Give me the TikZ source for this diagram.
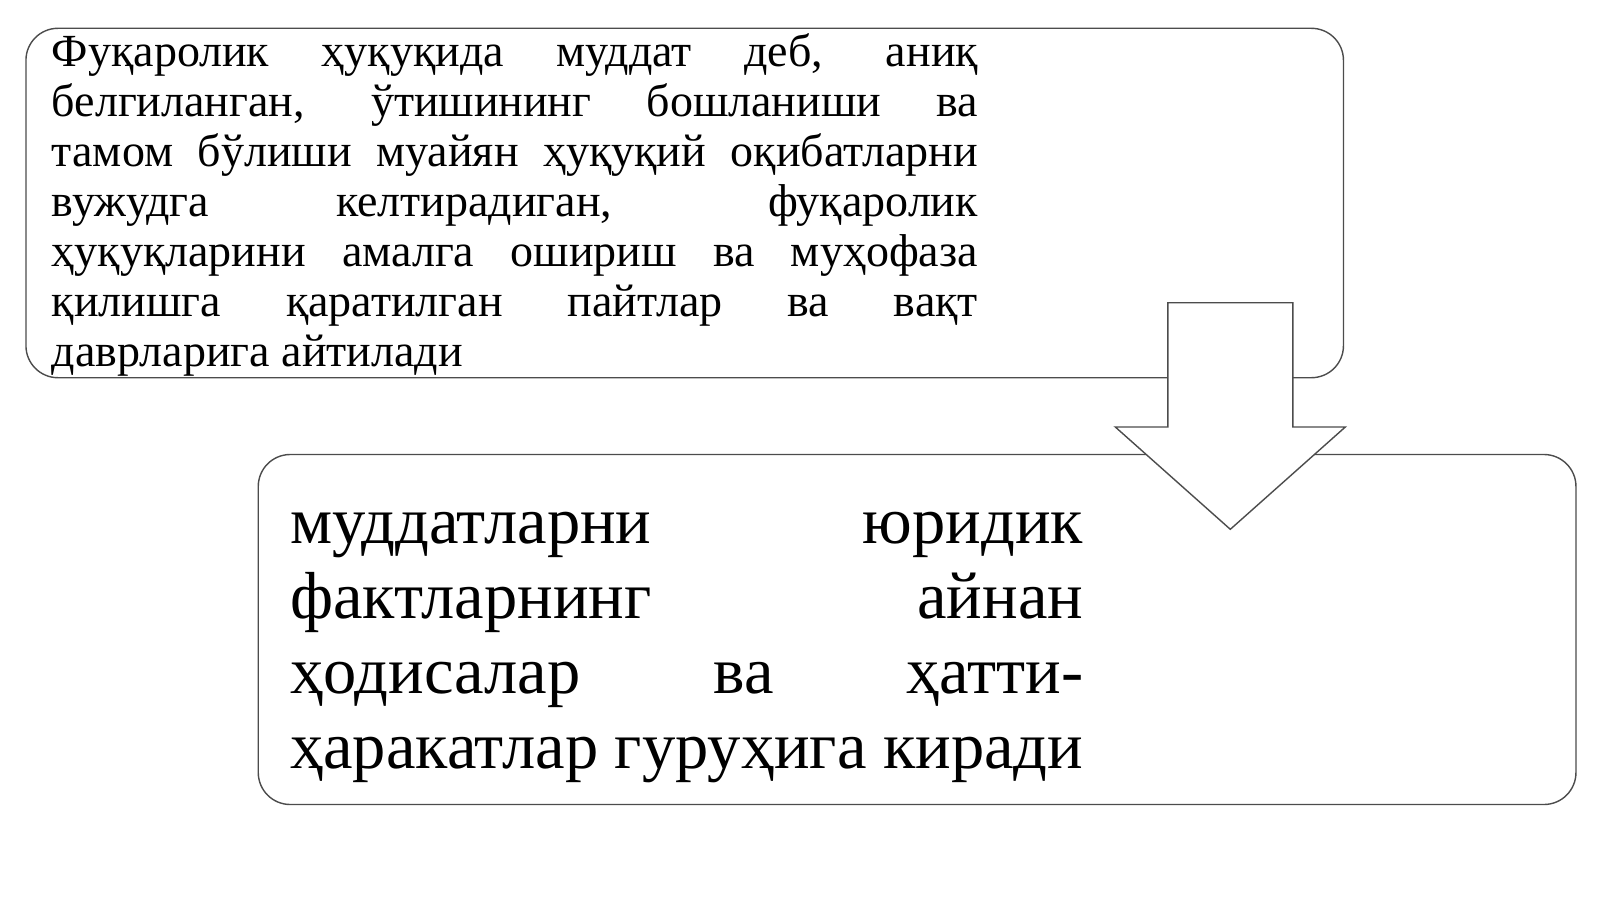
\documentclass[tikz,border=0pt]{standalone}
\usepackage{fontspec}
\setmainfont{Liberation Serif}
\usetikzlibrary{positioning}

\begin{document}
\begin{tikzpicture}[
    x=1pt, y=-1pt,
    box/.style={draw=black!70, line width=1.4pt, fill=white, rounded corners=32pt, rectangle, inner sep=0pt},
    txt/.style={inner sep=0pt, align=justify, anchor=north west},
    arrowshape/.style={draw=black!70, line width=1.4pt, fill=white}
]
    \useasboundingbox (0,0) rectangle (1600,899);

    % Boxes
    \node[box, minimum width=1317.5pt, minimum height=349.4pt] (definition) at (684.7,203) {};
    \node[box, minimum width=1317.7pt, minimum height=350pt] (facts) at (917.1,629.5) {};

    % Texts
    \node[txt, text width=926pt, font=\fontsize{46}{50}\selectfont] (deftext) at (51.7,31.7)
        {\strut Фуқаролик ҳуқуқида муддат деб, аниқ\linebreak
        белгиланган, ўтишининг бошланиши ва\linebreak
        тамом бўлиши муайян ҳуқуқий оқибатларни\linebreak
        вужудга келтирадиган, фуқаролик\linebreak
        ҳуқуқларини амалга ошириш ва муҳофаза\linebreak
        қилишга қаратилган пайтлар ва вақт\linebreak
        даврларига айтилади};
    \node[txt, text width=793pt, font=\fontsize{66.5}{75}\selectfont] (factstext) at (290,490.5)
        {\strut муддатларни юридик\linebreak
        фактларнинг айнан\linebreak
        ҳодисалар ва ҳатти-\linebreak
        ҳаракатлар гуруҳига киради};

    % Arrow
    \coordinate (tail) at (1230.3,302.7);
    \coordinate (tip) at (1230.3,529.3);
    \draw[arrowshape] ([xshift=-62.5pt]tail) -- ([xshift=62.5pt]tail) -- ([xshift=62.5pt,yshift=102.3pt]tip)
        -- ([xshift=115pt,yshift=102.3pt]tip) -- (tip) -- ([xshift=-115pt,yshift=102.3pt]tip)
        -- ([xshift=-62.5pt,yshift=102.3pt]tip) -- cycle;
\end{tikzpicture}
\end{document}
